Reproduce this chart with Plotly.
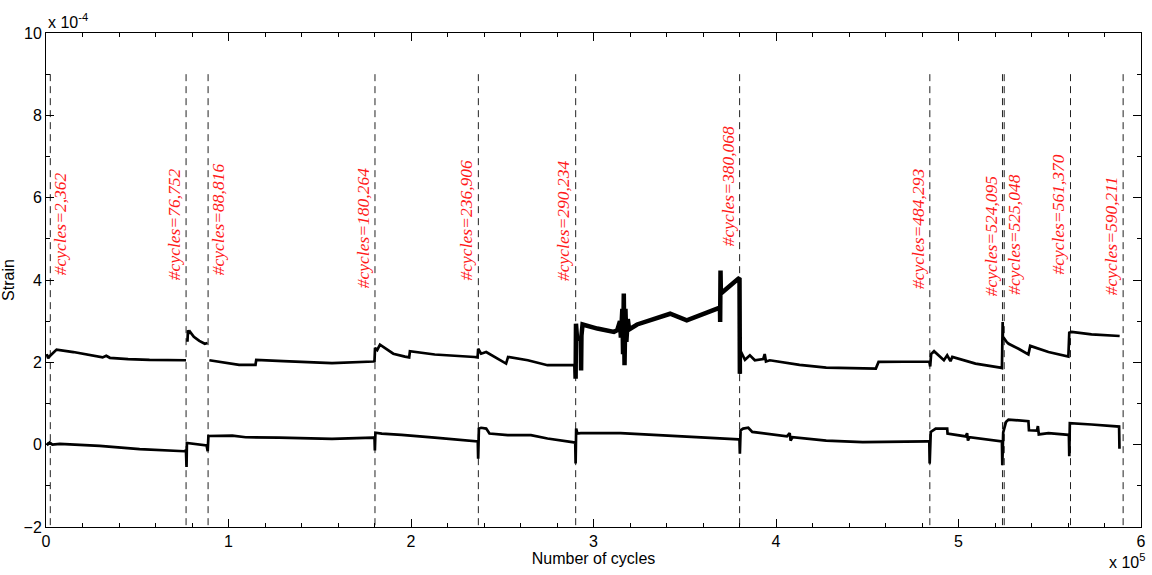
import plotly.graph_objects as go

# ---- data (x in units of 1e5 cycles, strain in units of 1e-4) ----
upper_x = [0.004, 0.012, 0.02, 0.035, 0.058, 0.15, 0.25, 0.31, 0.33, 0.35, 0.45, 0.567, 0.767, None,
           0.775, 0.778, 0.785, 0.79, 0.81, 0.84, 0.87, 0.885, None,
           0.895, 0.949, 1.058, 1.148, 1.152, 1.30, 1.567, 1.794, 1.800,
           1.803, 1.815, 1.83, 1.903, 1.967, 1.99, 1.994, 2.13, 2.348, 2.365,
           2.368, 2.384, 2.412, 2.521, 2.532, 2.64, 2.748, 2.894, 2.90]
upper_y = [2.20, 2.10, 2.15, 2.22, 2.31, 2.25, 2.18, 2.12, 2.16, 2.11, 2.08, 2.06, 2.05, None,
           2.50, 2.78, 2.70, 2.74, 2.62, 2.52, 2.45, 2.47, None,
           2.05, 2.01, 1.94, 1.94, 2.06, 2.03, 1.98, 2.02, 2.03,
           2.35, 2.30, 2.43, 2.21, 2.14, 2.12, 2.27, 2.19, 2.13, 2.12,
           2.33, 2.21, 2.25, 1.97, 2.13, 2.05, 1.93, 1.93, 1.93]

noisy_x = [2.90, 2.902, 2.904, 2.91, 2.93, 2.932, 2.934, 2.94, 3.021, 3.112, 3.13, 3.145, 3.15, 3.158,
           3.162, 3.166, 3.170, 3.175, 3.18, 3.188, 3.195, 3.239, 3.42, 3.511, 3.693, 3.694, 3.696,
           3.698, 3.793, 3.80, 3.802]
noisy_y = [1.93, 1.60, 2.94, 2.57, 2.57, 1.80, 2.65, 2.92, 2.82, 2.74, 2.78, 3.0, 2.6, 3.3,
           2.2, 3.67, 1.93, 3.3, 2.5, 3.05, 2.8, 2.92, 3.18, 3.02, 3.33, 2.98, 4.23,
           3.67, 4.03, 4.05, 1.72]

upper2_x = [3.802, 3.804, 3.83, 3.857, 3.884, 3.93, 3.938, 3.945, 3.966, 4.129, 4.275, 4.547, 4.562,
            4.829, 4.84, 4.845, 4.85, 4.866, 4.92, 4.938, 4.956, 4.966, 5.093, 5.229, 5.238,
            5.242, 5.243, 5.265, 5.275, 5.329, 5.383, 5.393, 5.493, 5.602,
            5.607, 5.62, 5.729, 5.883]
upper2_y = [1.72, 2.29, 2.06, 2.17, 2.05, 2.08, 2.20, 2.02, 2.05, 1.94, 1.87, 1.85, 2.01,
            2.02, 2.02, 1.90, 2.20, 2.27, 2.05, 2.17, 2.03, 2.13, 1.97, 1.87, 1.86,
            2.98, 2.63, 2.49, 2.45, 2.33, 2.19, 2.40, 2.25, 2.14,
            2.72, 2.74, 2.68, 2.64]

lower_x = [0.004, 0.01, 0.02, 0.035, 0.076, 0.294, 0.513, 0.758, 0.767, 0.770, 0.772, 0.80, 0.88,
           0.886, 0.890, 1.021, 1.094, 1.276, 1.567, 1.794, 1.800, 1.802, 1.805, 1.84, 1.948,
           2.13, 2.348, 2.366, 2.368, 2.372, 2.384, 2.412, 2.43, 2.53, 2.657, 2.748, 2.884,
           2.900, 2.902, 2.905, 2.912, 2.93, 3.148, 3.384, 3.693, 3.795, 3.800, 3.802, 3.806,
           3.82, 3.848, 3.87, 4.06, 4.075, 4.08, 4.09, 4.275, 4.475, 4.829, 4.840, 4.842,
           4.848, 4.875, 4.938, 4.940, 5.04, 5.047, 5.052, 5.06, 5.229, 5.238, 5.240, 5.245,
           5.26, 5.274, 5.383, 5.386, 5.43, 5.435, 5.44, 5.493, 5.602, 5.605, 5.607, 5.610,
           5.729, 5.880, 5.882]
lower_y = [0.04, 0.01, 0.05, 0.0, 0.02, -0.03, -0.11, -0.16, -0.14, -0.54, 0.04, 0.02, -0.02,
           -0.16, 0.21, 0.22, 0.18, 0.17, 0.14, 0.17, 0.18, -0.14, 0.29, 0.27, 0.24,
           0.17, 0.09, 0.08, -0.34, 0.39, 0.41, 0.39, 0.27, 0.23, 0.23, 0.15, 0.06,
           0.05, -0.46, 0.39, 0.27, 0.28, 0.28, 0.23, 0.15, 0.13, 0.12, -0.22, 0.35,
           0.39, 0.41, 0.31, 0.20, 0.28, 0.10, 0.18, 0.10, 0.06, 0.08, 0.08, -0.46,
           0.31, 0.39, 0.39, 0.27, 0.20, 0.28, 0.10, 0.18, 0.09, 0.08, -0.50, 0.30,
           0.55, 0.61, 0.57, 0.35, 0.34, 0.45, 0.25, 0.28, 0.24, 0.22, -0.28, 0.52,
           0.49, 0.44, -0.10]

marker_cycles = [2362, 76752, 88816, 180264, 236906, 290234, 380068,
                 484293, 524095, 525048, 561370, 590211]
marker_labels = ["2,362", "76,752", "88,816", "180,264", "236,906", "290,234", "380,068",
                 "484,293", "524,095", "525,048", "561,370", "590,211"]
label_bottom = [4.06, 3.95, 4.07, 3.75, 3.95, 3.92, 4.76, 3.73, 3.57, 3.60, 4.07, 3.57]
label_side = [1, -1, 1, -1, -1, -1, -1, -1, -1, 1, -1, -1]

fig = go.Figure()

# dashed marker lines
for c in marker_cycles:
    fig.add_trace(go.Scatter(x=[c / 1e5, c / 1e5], y=[9, -2], mode="lines",
                             line=dict(color="#222222", width=1, dash="7px,5px"),
                             showlegend=False, hoverinfo="skip"))

line_style = dict(color="black", width=2.7)
fig.add_trace(go.Scatter(x=upper_x, y=upper_y, mode="lines", line=line_style,
                         connectgaps=False, showlegend=False))
fig.add_trace(go.Scatter(x=noisy_x, y=noisy_y, mode="lines",
                         line=dict(color="black", width=4.5), showlegend=False))
fig.add_trace(go.Scatter(x=upper2_x, y=upper2_y, mode="lines", line=line_style,
                         showlegend=False))
fig.add_trace(go.Scatter(x=lower_x, y=lower_y, mode="lines", line=line_style,
                         showlegend=False))

for c, lab, yb, side in zip(marker_cycles, marker_labels, label_bottom, label_side):
    fig.add_annotation(x=c / 1e5, y=yb, text="#cycles=" + lab, textangle=-90,
                       showarrow=False, xanchor="center", yanchor="bottom",
                       xshift=10 * side if side > 0 else -12,
                       font=dict(family="Liberation Serif, Times New Roman, serif",
                                 size=17.5, color="#ff1a1a", style="italic"))

axis_font = dict(family="Liberation Sans, Arial, Helvetica, sans-serif", size=16, color="black")

fig.add_annotation(x=0, y=1, xref="paper", yref="paper", xanchor="left", yanchor="bottom",
                   text="x 10<sup>-4</sup>", showarrow=False, font=axis_font, yshift=0)
fig.add_annotation(x=1, y=0, xref="paper", yref="paper", xanchor="right", yanchor="top",
                   text="x 10<sup>5</sup>", showarrow=False, font=axis_font, yshift=-22, xshift=6)

fig.update_xaxes(range=[0, 6], tickvals=[0, 1, 2, 3, 4, 5, 6], ticks="inside", ticklen=8,
                 tickcolor="black", showline=True, linecolor="black", linewidth=1,
                 mirror="allticks", showgrid=False, zeroline=False, tickfont=axis_font,
                 minor=dict(dtick=0.2, ticks="inside", ticklen=4, tickcolor="black"),
                 title=dict(text="Number of cycles", font=axis_font, standoff=2))
fig.update_yaxes(range=[-2, 10], tickvals=[-2, 0, 2, 4, 6, 8, 10], ticks="inside", ticklen=8,
                 tickcolor="black", showline=True, linecolor="black", linewidth=1,
                 mirror="allticks", showgrid=False, zeroline=False, tickfont=axis_font,
                 minor=dict(dtick=1, ticks="inside", ticklen=4, tickcolor="black"),
                 title=dict(text="Strain", font=axis_font, standoff=4))

fig.update_layout(width=1152, height=575, plot_bgcolor="white", paper_bgcolor="white",
                  margin=dict(l=46, r=6, t=33, b=48), showlegend=False)

fig.write_html("out.html")
